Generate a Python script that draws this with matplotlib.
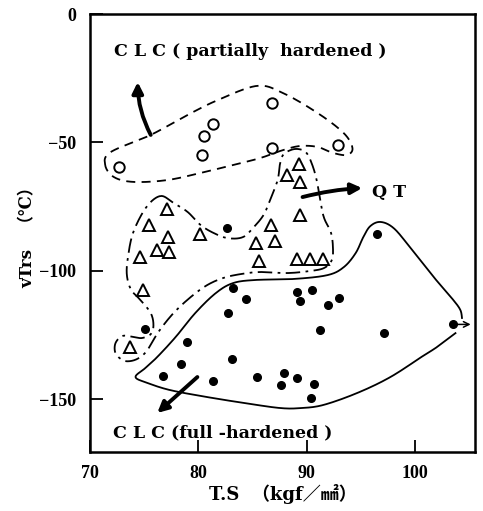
import matplotlib.pyplot as plt
import numpy as np

# CLC (partially hardened) - open circles
part_ts = [72.7, 80.3, 80.5, 81.3, 86.8, 86.75, 92.9]
part_vtrs = [-59.5, -54.9, -47.5, -42.9, -34.8, -52.3, -51.0]

# QT - open triangles
qt_ts = [89.3, 88.2, 89.4, 89.4, 77.1, 75.45, 77.2, 80.1, 86.7, 87.1,
         85.3, 76.2, 77.3, 74.65, 74.85, 85.55, 89.1, 90.3, 91.45, 73.7]
qt_vtrs = [-58.4, -62.7, -65.3, -78.3, -76.1, -82.2, -86.8, -85.8, -82.2, -88.4,
           -89.3, -91.9, -92.8, -94.8, -107.5, -96.2, -95.6, -95.6, -95.6, -129.6]

# CLC (full-hardened) - filled dots
full_ts = [82.6, 96.5, 83.2, 84.4, 82.75, 89.1, 90.5, 89.4, 91.95, 93.0,
           91.25, 97.15, 103.5, 75.1, 78.9, 83.1, 78.35, 76.75, 81.3, 85.4,
           87.9, 87.65, 89.1, 90.7, 90.4]
full_vtrs = [-83.2, -85.8, -106.8, -111.2, -116.6, -108.2, -107.5, -111.8, -113.4, -110.5,
             -123.1, -124.2, -120.9, -122.8, -127.6, -134.5, -136.2, -140.9, -142.8, -141.3,
             -139.8, -144.4, -141.6, -144.1, -149.5]

# hand-drawn group outlines (T.S, vTrs)
part_outline = [(71.4, -58.8), (71.9, -53.8), (75.6, -47.1), (79.0, -39.3), (81.8, -33.5),
                (85.4, -28.0), (87.8, -30.8), (91.0, -38.6), (93.4, -46.4), (94.2, -52.2),
                (93.7, -54.9), (92.4, -54.1), (91.0, -51.8), (89.4, -51.4), (87.8, -53.0),
                (85.7, -56.1), (83.2, -58.8), (80.2, -61.9), (77.1, -64.7), (74.0, -65.4),
                (72.2, -63.5)]
qt_outline = [(76.5, -70.9), (77.7, -73.6), (79.0, -77.1), (80.2, -82.2), (81.4, -85.3),
              (82.7, -87.3), (84.1, -86.9), (85.1, -83.0), (86.0, -78.3), (86.6, -72.5),
              (87.3, -64.7), (87.5, -58.8), (87.8, -54.9), (88.5, -53.0), (89.2, -52.6),
              (89.9, -53.8), (90.4, -57.7), (90.9, -64.7), (91.5, -78.3), (92.2, -84.9),
              (92.4, -90.8), (92.3, -95.8), (91.6, -98.9), (90.3, -100.1), (88.2, -100.9),
              (85.7, -100.5), (83.9, -101.3), (82.3, -102.8), (80.8, -105.6), (79.3, -110.2),
              (77.7, -116.5), (76.3, -123.9), (75.3, -130.9), (74.5, -134.0), (73.7, -135.2),
              (73.0, -134.8), (72.35, -132.1), (72.35, -128.2), (73.0, -125.4), (74.0, -125.8),
              (74.8, -126.2), (75.6, -124.7), (75.85, -121.2), (75.6, -116.5), (74.65, -111.4),
              (73.8, -107.5), (73.4, -101.7), (73.5, -94.7), (74.0, -84.9), (75.2, -75.2)]
full_outline = [(103.7, -124.3), (102.0, -129.7), (100.7, -133.2), (97.7, -141.4), (94.65, -147.6),
                (91.5, -152.3), (89.4, -153.5), (87.6, -153.5), (84.8, -151.9), (80.8, -149.2),
                (77.4, -146.5), (75.3, -143.7), (74.2, -141.4), (75.1, -137.9), (76.2, -133.6),
                (77.9, -125.8), (79.7, -116.5), (81.6, -108.7), (83.2, -104.8), (85.25, -103.6),
                (88.8, -103.2), (91.9, -101.7), (93.4, -98.6), (94.5, -93.1), (95.2, -86.9),
                (95.85, -82.6), (96.8, -81.0), (98.0, -83.4), (99.5, -90.8), (101.7, -102.5),
                (103.5, -111.4), (104.15, -115.3), (104.3, -118.4)]


def smooth(pts, closed=True, n=20):
    # Catmull-Rom through the hand-picked outline points
    p = np.asarray(pts, float)
    if closed:
        p = np.vstack([p[-1], p, p[0], p[1]])
    else:
        p = np.vstack([p[0], p, p[-1]])
    t = np.linspace(0, 1, n, endpoint=False)[:, None]
    out = []
    for i in range(1, len(p) - 2):
        p0, p1, p2, p3 = p[i - 1], p[i], p[i + 1], p[i + 2]
        out.append(0.5 * (2 * p1 + (p2 - p0) * t + (2 * p0 - 5 * p1 + 4 * p2 - p3) * t ** 2
                          + (3 * p1 - p0 - 3 * p2 + p3) * t ** 3))
    out.append(p[-2][None])
    return np.vstack(out)


serif_cjk = ['DejaVu Serif', 'Noto Sans CJK JP']
tick_font = dict(family='Liberation Serif', weight='bold', size=13)
note_font = dict(family=serif_cjk, weight='bold', size=12.5)

fig = plt.figure(figsize=(4.83, 5.11), dpi=100)
ax = fig.add_axes([90 / 483, 1 - 452 / 511, 385 / 483, 438 / 511])

for pts, ls, closed in [(part_outline, (0, (5, 3.5)), True),
                        (qt_outline, (0, (8, 3, 1.5, 3)), True),
                        (full_outline, '-', False)]:
    c = smooth(pts, closed)
    ax.plot(c[:, 0], c[:, 1], color='black', lw=1.3, linestyle=ls)

ax.plot(part_ts, part_vtrs, 'o', ms=7.5, mfc='white', mec='black', mew=1.4)
ax.plot(qt_ts, qt_vtrs, '^', ms=8, mfc='white', mec='black', mew=1.4)
ax.plot(full_ts, full_vtrs, 'o', ms=5.5, color='black')

thick = dict(arrowstyle='-|>', lw=2.8, color='black', mutation_scale=16, shrinkA=0, shrinkB=0)
ax.annotate('', xy=(74.4, -26.5), xytext=(75.6, -47.1),
            arrowprops=dict(thick, connectionstyle='arc3,rad=-0.12'))
ax.annotate('', xy=(95.1, -67.8), xytext=(89.6, -71.3),
            arrowprops=dict(thick, connectionstyle='arc3,rad=-0.05'))
ax.annotate('', xy=(76.2, -155.4), xytext=(79.9, -141.4), arrowprops=thick)
ax.annotate('', xy=(105.1, -120.9), xytext=(103.5, -120.9),
            arrowprops=dict(arrowstyle='->', lw=1.1, color='black', shrinkA=0, shrinkB=0))

ax.text(72.2, -14.8, 'C L C ( partially  hardened )', va='center', fontdict=note_font)
ax.text(96.0, -69.7, 'Q T', va='center', fontdict=note_font)
ax.text(72.1, -163.2, 'C L C (full -hardened )', va='center', fontdict=note_font)

ax.set_xlim(70, 105.5)
ax.set_ylim(-170.6, 0)
ax.set_xticks([70, 80, 90, 100])
ax.set_yticks([0, -50, -100, -150])
ax.tick_params(direction='in', length=9, width=1.3)
ax.tick_params(axis='x', pad=9)
ax.tick_params(axis='y', pad=10)
for lab in ax.get_xticklabels() + ax.get_yticklabels():
    lab.set(**tick_font)
for s in ax.spines.values():
    s.set_linewidth(1.8)

ax.set_xlabel('T.S  （kgf／㎟）', family=serif_cjk, weight='bold', size=13, labelpad=2)
ax.set_ylabel('vTrs   （℃）', family=serif_cjk, weight='bold', size=12, labelpad=2)

fig.savefig('out.png', dpi=100)
